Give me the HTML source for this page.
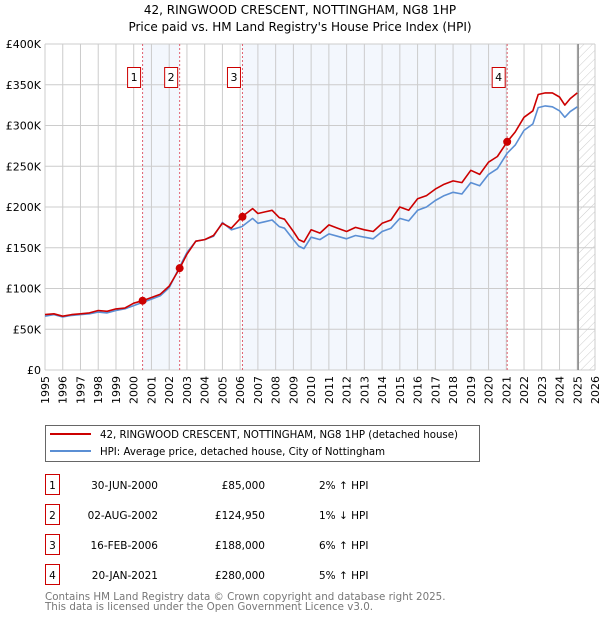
<!DOCTYPE html>
<html><head><meta charset="utf-8"><style>
body{margin:0;background:#fff;font-family:"DejaVu Sans","Liberation Sans",sans-serif;}
#wrap{position:relative;width:600px;height:620px;overflow:hidden}
</style></head><body>
<div id="wrap">
<svg id="chart" width="600" height="620" xmlns="http://www.w3.org/2000/svg" font-family="DejaVu Sans, Liberation Sans, sans-serif">
<defs><pattern id="hatch" width="6" height="6" patternUnits="userSpaceOnUse" patternTransform="rotate(45)"><line x1="0" y1="0" x2="0" y2="6" stroke="#ccc" stroke-width="1"/></pattern></defs>
<text x="300" y="14" text-anchor="middle" font-size="12">42, RINGWOOD CRESCENT, NOTTINGHAM, NG8 1HP</text>
<text x="300" y="31" text-anchor="middle" font-size="12">Price paid vs. HM Land Registry's House Price Index (HPI)</text>
<g id="plot"></g>
<g>
<rect x="45.5" y="425.5" width="434" height="36" fill="#fff" stroke="#666"/>
<line x1="50" y1="434" x2="91" y2="434" stroke="#cc0000" stroke-width="2"/>
<text x="100" y="438" font-size="10.2">42, RINGWOOD CRESCENT, NOTTINGHAM, NG8 1HP (detached house)</text>
<line x1="50" y1="451" x2="91" y2="451" stroke="#5b8fd4" stroke-width="2"/>
<text x="100" y="455" font-size="10.2">HPI: Average price, detached house, City of Nottingham</text>
</g>
<g id="table" font-size="10.5"></g>
<text x="45" y="600" font-size="10.3" fill="#777">Contains HM Land Registry data © Crown copyright and database right 2025.</text>
<text x="45" y="610" font-size="10.3" fill="#777">This data is licensed under the Open Government Licence v3.0.</text>
</svg>
</div>
<script>
const propYears=[1995,1995.5,1996,1996.5,1997,1997.5,1998,1998.5,1999,1999.5,2000,2000.5,2001,2001.5,2002,2002.6,2003,2003.5,2004,2004.5,2005,2005.5,2006.1,2006.7,2007,2007.4,2007.8,2008.2,2008.5,2009,2009.3,2009.6,2010,2010.5,2011,2011.5,2012,2012.5,2013,2013.5,2014,2014.5,2015,2015.5,2016,2016.5,2017,2017.5,2018,2018.5,2019,2019.5,2020,2020.5,2021.05,2021.5,2022,2022.5,2022.8,2023.2,2023.6,2024,2024.3,2024.6,2025];
const propValues=[68,69,66,68,69,70,73,72,75,76,82,85,89,93,103,125,142,158,160,165,180,174,188,198,192,194,196,187,185,170,160,157,172,168,178,174,170,175,172,170,180,184,200,196,210,214,222,228,232,230,245,240,255,262,280,292,310,318,338,340,340,335,325,333,340];
const hpiYears=[1995,1995.5,1996,1996.5,1997,1997.5,1998,1998.5,1999,1999.5,2000,2000.5,2001,2001.5,2002,2002.6,2003,2003.5,2004,2004.5,2005,2005.5,2006.1,2006.7,2007,2007.4,2007.8,2008.2,2008.5,2009,2009.3,2009.6,2010,2010.5,2011,2011.5,2012,2012.5,2013,2013.5,2014,2014.5,2015,2015.5,2016,2016.5,2017,2017.5,2018,2018.5,2019,2019.5,2020,2020.5,2021.05,2021.5,2022,2022.5,2022.8,2023.2,2023.6,2024,2024.3,2024.6,2025];
const hpiValues=[66,68,65,67,68,69,71,70,73,75,79,83,87,91,101,127,144,158,160,164,181,172,176,186,180,182,184,176,174,160,152,149,163,160,167,164,161,165,163,161,170,174,186,183,196,200,208,214,218,216,230,226,240,247,266,276,294,302,322,324,323,318,310,317,323];
const tickValues=[0,50,100,150,200,250,300,350,400];
const tickLabels=["£0","£50K","£100K","£150K","£200K","£250K","£300K","£350K","£400K"];
const saleYears=[2000.5,2002.59,2006.13,2021.05];
const salePrices=[85,124.95,188,280];
const saleLabels=["1","2","3","4"];
const saleDates=["30-JUN-2000","02-AUG-2002","16-FEB-2006","20-JAN-2021"];
const salePriceText=["£85,000","£124,950","£188,000","£280,000"];
const saleHpi=["2% ↑ HPI","1% ↓ HPI","6% ↑ HPI","5% ↑ HPI"];

const NS="http://www.w3.org/2000/svg";
const X0=45,X1=595,Y0=370,Y1=44,YR0=1995,YR1=2026,VMAX=400;
const xs=y=>X0+(y-YR0)/(YR1-YR0)*(X1-X0);
const ys=v=>Y0-v/VMAX*(Y0-Y1);
const plot=document.getElementById('plot');
function mk(tag,attrs,parent){const e=document.createElementNS(NS,tag);for(const k in attrs)e.setAttribute(k,attrs[k]);(parent||plot).appendChild(e);return e;}

for(const [a,b] of [[0,1],[2,3]]){
  const r=mk('rect',{x:xs(saleYears[a]),y:Y1,width:xs(saleYears[b])-xs(saleYears[a]),height:Y0-Y1,fill:'#eef3fc',opacity:0.7});
  
  
}
const h=mk('rect',{x:xs(2025.1),y:Y1,width:X1-xs(2025.1),height:Y0-Y1,fill:'url(#hatch)'});


for(let yr=YR0;yr<=YR1;yr++){
  const g=mk('line',{x1:xs(yr),x2:xs(yr),y1:Y1,y2:Y0,stroke:'#ccc','stroke-width':1});
  
  
  const t=mk('text',{x:0,y:0,'font-size':11,'text-anchor':'end',transform:`translate(${xs(yr)+4},${Y0+6}) rotate(-90)`});
  t.textContent=yr;
  
  
}
tickValues.forEach((v,i)=>{
  const g=mk('line',{x1:X0,x2:X1,y1:ys(v),y2:ys(v),stroke:'#ccc','stroke-width':1});
  
  
  const t=mk('text',{x:X0-4,y:ys(v)+4,'font-size':11,'text-anchor':'end'});
  t.textContent=tickLabels[i];
  
  
});
const nl=mk('line',{x1:xs(2025.05),x2:xs(2025.05),y1:Y1,y2:Y0,stroke:'#888','stroke-width':1.5});


saleYears.forEach((yr,i)=>{
  const l=mk('line',{x1:xs(yr),x2:xs(yr),y1:Y1,y2:Y0,stroke:'#e06070','stroke-width':1,'stroke-dasharray':'2,2'});
  
  
  const r=mk('rect',{x:xs(yr)-15,y:67.5,width:13,height:20,fill:'#fff',stroke:'#cc0000'});
  
  
  const t=mk('text',{x:xs(yr)-8.5,y:81,'font-size':11,'text-anchor':'middle'});
  t.textContent=saleLabels[i];
  
  
});
function line(xa,va,color,name){
  const d=xa.map((y,i)=>(i?'L':'M')+xs(y).toFixed(1)+','+ys(va[i]).toFixed(1)).join('');
  const p=mk('path',{d,fill:'none',stroke:color,'stroke-width':1.6,'stroke-linejoin':'round'});
  
  
}
line(hpiYears,hpiValues,'#5b8fd4','hpi-line');
line(propYears,propValues,'#cc0000','property-price-line');
saleYears.forEach((yr,i)=>{
  const c=mk('circle',{cx:xs(yr),cy:ys(salePrices[i]),r:4,fill:'#cc0000'});
  
  
});
const tb=document.getElementById('table');
saleLabels.forEach((lab,i)=>{
  const y=475+i*30;
  const r=mk('rect',{x:45.5,y:y-0.5,width:14,height:20,fill:'#fff',stroke:'#cc0000'},tb);
  
  
  const t0=mk('text',{x:52.5,y:y+14,'text-anchor':'middle'},tb);t0.textContent=lab;
  
  
  const t1=mk('text',{x:158,y:y+14,'text-anchor':'end'},tb);t1.textContent=saleDates[i];
  
  
  const t2=mk('text',{x:265,y:y+14,'text-anchor':'end'},tb);t2.textContent=salePriceText[i];
  
  
  const t3=mk('text',{x:319,y:y+14},tb);t3.textContent=saleHpi[i];
  
  
});
</script>
</body></html>
